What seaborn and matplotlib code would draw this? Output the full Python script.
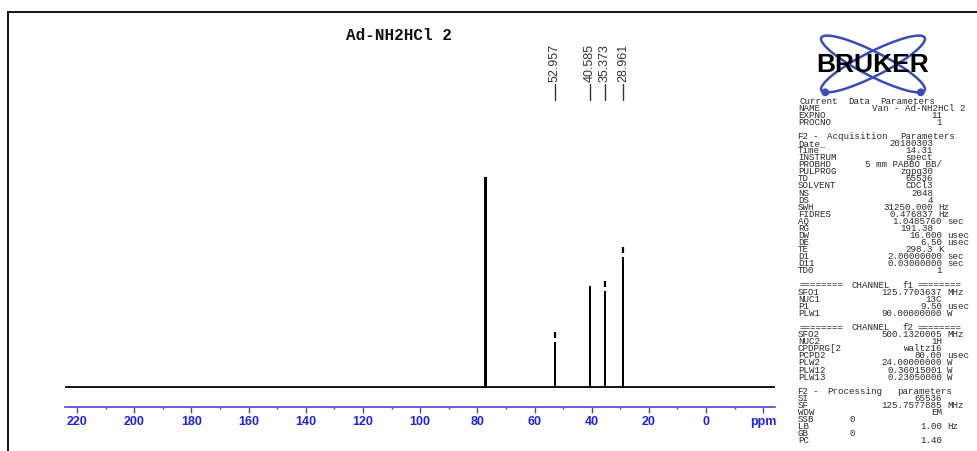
import numpy as np
import pandas as pd
import matplotlib
matplotlib.use('Agg')
import matplotlib.pyplot as plt
import seaborn as sns
from matplotlib import transforms
from matplotlib.patches import Ellipse, Circle
from matplotlib.ticker import FixedLocator, MultipleLocator

# dados do espectro (13C)
title = 'Ad-NH2HCl 2'
peak_ppm = [77.16, 77.0, 76.84, 52.957, 40.585, 35.373, 28.961]
peak_height = [209, 209, 209, 44, 100, 95, 129]
label_ppm = [52.957, 40.585, 35.373, 28.961]
label_text = ['52.957', '40.585', '35.373', '28.961']
label_marked = [True, False, True, True]
ppm_range = [224.2, -24.1]
tick_values = [220, 200, 180, 160, 140, 120, 100, 80, 60, 40, 20, 0, -20]
tick_labels = ['220', '200', '180', '160', '140', '120', '100', '80', '60', '40', '20', '0', 'ppm']

# parametros de aquisicao
current_rows = [('NAME', 'Van - Ad-NH2HCl 2', ''), ('EXPNO', '11', ''), ('PROCNO', '1', '')]
acq_rows = [('Date_', '20180303', ''), ('Time', '14.31', ''), ('INSTRUM', 'spect', ''),
            ('PROBHD', '5 mm PABBO BB/', ''), ('PULPROG', 'zgpg30', ''), ('TD', '65536', ''),
            ('SOLVENT', 'CDCl3', ''), ('NS', '2048', ''), ('DS', '4', ''),
            ('SWH', '31250.000', 'Hz'), ('FIDRES', '0.476837', 'Hz'), ('AQ', '1.0485760', 'sec'),
            ('RG', '191.38', ''), ('DW', '16.000', 'usec'), ('DE', '6.50', 'usec'),
            ('TE', '298.3', 'K'), ('D1', '2.00000000', 'sec'), ('D11', '0.03000000', 'sec'),
            ('TD0', '1', '')]
f1_rows = [('SFO1', '125.7703637', 'MHz'), ('NUC1', '13C', ''), ('P1', '9.50', 'usec'),
           ('PLW1', '90.00000000', 'W')]
f2_rows = [('SFO2', '500.1320005', 'MHz'), ('NUC2', '1H', ''), ('CPDPRG[2', 'waltz16', ''),
           ('PCPD2', '80.00', 'usec'), ('PLW2', '24.00000000', 'W'), ('PLW12', '0.36015001', 'W'),
           ('PLW13', '0.23050000', 'W')]
proc_rows = [('SI', '65536', ''), ('SF', '125.7577885', 'MHz'), ('WDW', 'EM', ''),
             ('SSB', '0', ''), ('LB', '1.00', 'Hz'), ('GB', '0', ''), ('PC', '1.40', '')]
# cabecalhos: palavras e posicao x (px) de cada palavra
sections = [([('Current', 800), ('Data', 848), ('Parameters', 880)], current_rows),
            ([('F2', 797), ('-', 813), ('Acquisition', 827), ('Parameters', 900)], acq_rows),
            ([('========', 799), ('CHANNEL', 851), ('f1', 902), ('========', 917)], f1_rows),
            ([('========', 799), ('CHANNEL', 851), ('f2', 902), ('========', 917)], f2_rows),
            ([('F2', 797), ('-', 813), ('Processing', 827), ('parameters', 897)], proc_rows)]
short_right = {'Date_', 'Time', 'INSTRUM', 'PULPROG', 'TD', 'SOLVENT', 'NS', 'DS',
               'SWH', 'FIDRES', 'RG', 'TE'}

sns.set_style('white')
plt.rcParams['font.family'] = ['Liberation Sans', 'DejaVu Sans']

W, H = 977, 451
fig = plt.figure(figsize=(W / 100, H / 100), dpi=100)

# eixo de fundo em pixels
bg = fig.add_axes([0, 0, 1, 1])
bg.set_xlim(0, W)
bg.set_ylim(H, 0)
bg.axis('off')

# moldura
bg.plot([7.5, W], [12, 12], color='black', lw=1.3)
bg.plot([7.5, 7.5], [12, H], color='black', lw=1.3)

# titulo
bg.text(399, 36, title, family='Liberation Mono', fontweight='bold', fontsize=11.5,
        ha='center', va='center', color='#111111')

# logotipo
blue_logo = '#3a4cb5'
for ang in [27, -27]:
    bg.add_patch(Ellipse((873, 64), 116, 24, angle=ang, fill=False, ec=blue_logo, lw=1.8))
for ang, t in [(27, 0.3), (-27, np.pi - 0.3)]:
    a, b = 58, 12
    px, py = a * np.cos(t), b * np.sin(t)
    r = np.deg2rad(ang)
    cx = 873 + px * np.cos(r) - py * np.sin(r)
    cy = 64 + px * np.sin(r) + py * np.cos(r)
    bg.add_patch(Circle((cx, cy), 3.2, color=blue_logo))
bg.text(873, 65, 'BRUKER', fontsize=19, fontweight='bold', ha='center', va='center',
        color='black', zorder=5)

# painel de parametros
mono = dict(family='Liberation Mono', fontsize=6.6, color='#2a2a2a', va='center')
y = 101
step = 7.08
for header, rows in sections:
    for word, wx in header:
        bg.text(wx, y, word, ha='left', **mono)
    y += step
    for name, value, unit in rows:
        bg.text(798, y, name, ha='left', **mono)
        if name == 'NAME':
            right = 966
        elif name in short_right:
            right = 933
        else:
            right = 942
        if name in ('SSB', 'GB'):
            bg.text(850, y, value, ha='left', **mono)
        else:
            bg.text(right, y, value, ha='right', **mono)
        if unit:
            bg.text(right + 5, y, unit, ha='left', **mono)
        y += step
    y += step

# espectro
x0, x1, ybot, ytop = 65, 775, 407, 150
ax = fig.add_axes([x0 / W, (H - ybot) / H, (x1 - x0) / W, (ybot - ytop) / H])
ax.patch.set_alpha(0)

trace_x = [ppm_range[0]]
trace_y = [0]
for p, h in sorted(zip(peak_ppm, peak_height), reverse=True):
    trace_x += [p, p, p]
    trace_y += [0, h, 0]
trace_x.append(ppm_range[1])
trace_y.append(0)
df = pd.DataFrame({'ppm': trace_x, 'intensidade': trace_y})
sns.lineplot(data=df, x='ppm', y='intensidade', sort=False, estimator=None,
             color='black', lw=1.3, ax=ax)

for p, h, m in zip(peak_ppm, peak_height, [False] * 3 + label_marked):
    if m:
        ax.plot([p], [h + 8], marker='|', ms=4, mew=1.6, color='black')

ax.set_xlim(ppm_range)
ax.set_ylim(-20, 237)
ax.set_xlabel('')
ax.set_ylabel('')
ax.set_yticks([])
for s in ['top', 'left', 'right']:
    ax.spines[s].set_visible(False)
axis_blue = '#4646e0'
ax.spines['bottom'].set_color(axis_blue)
ax.spines['bottom'].set_linewidth(1.2)
ax.xaxis.set_major_locator(FixedLocator(tick_values))
ax.set_xticklabels(tick_labels)
ax.xaxis.set_minor_locator(MultipleLocator(10))
ax.tick_params(axis='x', which='major', direction='out', length=4, width=1,
               color=axis_blue, labelcolor='#2020e8', pad=2.5, labelsize=9, bottom=True)
ax.tick_params(axis='x', which='minor', direction='out', length=1.5, width=1,
               color=axis_blue, bottom=True)
for lbl in ax.get_xticklabels():
    lbl.set_fontweight('bold')

# rotulos dos picos
trans = transforms.blended_transform_factory(ax.transData, bg.transData)
for p, txt in zip(label_ppm, label_text):
    ax.plot([p, p], [84, 100], transform=trans, color='#333333', lw=1, clip_on=False)
    ax.text(p, 82, txt, transform=trans, rotation=90, ha='center', va='bottom',
            fontsize=9, color='#333333', clip_on=False)

fig.savefig('out.png', dpi=100)
